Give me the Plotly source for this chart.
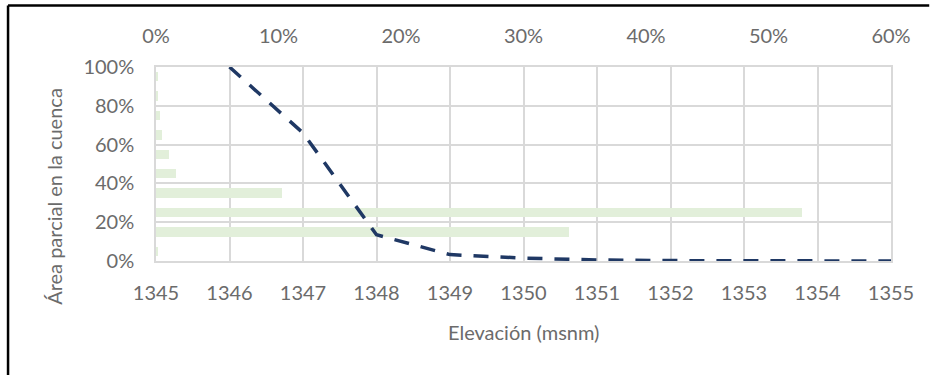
import plotly.graph_objects as go

# Elevation bands (lowest to highest) and the share of basin area in each band (%)
bandas = ["1345-1346", "1346-1347", "1347-1348", "1348-1349", "1349-1350",
          "1350-1351", "1351-1352", "1352-1353", "1353-1354", "1354-1355"]
area_parcial = [0.1, 33.7, 52.7, 10.3, 1.6, 1.1, 0.5, 0.3, 0.1, 0.15]

# Hypsometric curve: share of basin area above each elevation (%)
elevacion = [1346, 1347, 1348, 1349, 1350, 1351, 1352, 1353, 1354, 1355]
area_acumulada = [100, 66, 13.5, 3.3, 1.5, 0.5, 0.2, 0.1, 0.05, 0.0]

TXT = "#6B6B6B"
GRID = "#D9D9D9"
FONT = "Lato, 'Liberation Sans', sans-serif"

fig = go.Figure()

# partial-area bars on the top percentage axis
fig.add_trace(go.Bar(
    x=area_parcial, y=bandas, orientation="h",
    xaxis="x", yaxis="y",
    marker=dict(color="#E2EFDA", line=dict(width=0)),
    width=0.48, hoverinfo="x+y", showlegend=False,
))

# cumulative curve against elevation
fig.add_trace(go.Scatter(
    x=elevacion, y=area_acumulada, mode="lines",
    xaxis="x2", yaxis="y2",
    line=dict(color="#1F3864", width=3.5, dash="15px,12px"),
    showlegend=False,
))

fig.update_layout(
    width=931, height=375,
    margin=dict(l=156, r=40, t=67, b=114),
    paper_bgcolor="white", plot_bgcolor="white",
    font=dict(family=FONT, size=20, color=TXT),
    bargap=0,
    xaxis=dict(
        side="top", range=[0, 60], dtick=10, ticksuffix="%",
        showgrid=False, zeroline=False, showline=False, ticks="",
        ticklabelstandoff=19,
        tickfont=dict(family=FONT, size=20, color=TXT),
    ),
    yaxis=dict(
        type="category", range=[-0.5, 9.5],
        showticklabels=False, showgrid=False, zeroline=False,
        showline=False, ticks="",
    ),
    xaxis2=dict(
        overlaying="x", side="bottom", range=[1345, 1355], dtick=1,
        showgrid=True, gridcolor=GRID, gridwidth=1.5,
        zeroline=False, showline=True, linecolor=GRID, linewidth=1.5,
        mirror=True, ticks="", ticklabelstandoff=13,
        tickfont=dict(family=FONT, size=20, color=TXT),
    ),
    yaxis2=dict(
        overlaying="y", side="left", range=[0, 100], dtick=20,
        ticksuffix="%",
        showgrid=True, gridcolor=GRID, gridwidth=1.5,
        zeroline=False, showline=True, linecolor=GRID, linewidth=1.5,
        mirror=True, ticks="", ticklabelstandoff=16,
        tickfont=dict(family=FONT, size=20, color=TXT),
    ),
    annotations=[
        dict(text="Elevación (msnm)", xref="paper", yref="paper",
             x=0.5, y=-0.365, xanchor="center", yanchor="middle",
             showarrow=False, font=dict(family=FONT, size=20, color=TXT)),
        dict(text="Área parcial en la cuenca", xref="paper", yref="paper",
             x=-0.139, y=0.335, xanchor="center", yanchor="middle",
             textangle=-90, showarrow=False,
             font=dict(family=FONT, size=20, color=TXT)),
    ],
    shapes=[
        # chart-area frame: top and left edges
        dict(type="line", xref="paper", yref="paper",
             x0=-0.2013, x1=1.052, y0=1.3176, y1=1.3176,
             line=dict(color="black", width=2.5), layer="above"),
        dict(type="line", xref="paper", yref="paper",
             x0=-0.2013, x1=-0.2013, y0=-0.6, y1=1.3176,
             line=dict(color="black", width=2.5), layer="above"),
    ],
)

fig.write_html("out.html")
